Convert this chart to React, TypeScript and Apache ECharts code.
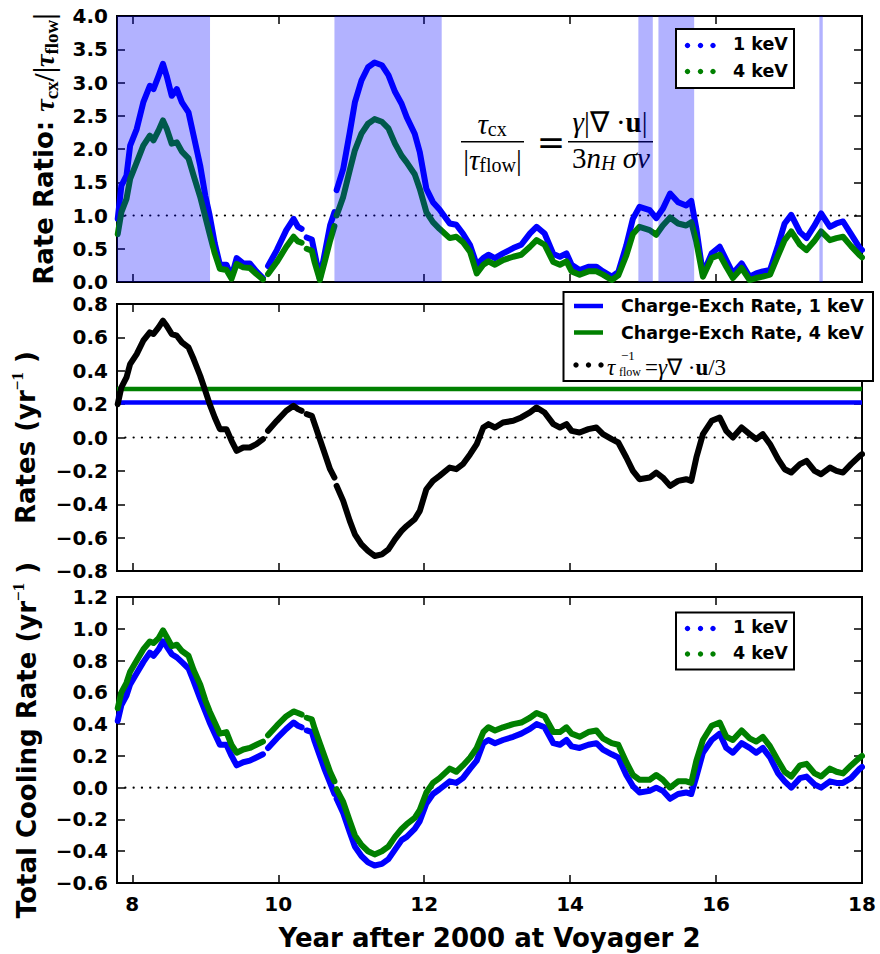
import React, { useEffect, useRef } from 'react';
import * as echarts from 'echarts';

// ---------------- DATA ----------------
const X_MIN = 7.79;
const X_MAX = 18;
const X_TICKS = [8, 10, 12, 14, 16, 18];

// sample years (null values = data gaps)
const YEARS = [
  7.80, 7.85, 7.92, 7.97, 8.06, 8.15, 8.24, 8.29, 8.36, 8.42, // 0-9
  8.47, 8.54, 8.61, 8.68, 8.77, 8.84, 8.93, 9.00, 9.06, 9.13, // 10-19
  9.20, 9.29, 9.36, 9.43, 9.52, 9.61, 9.70, 9.79, 9.83, 9.86, // 20-29
  9.98, 10.11, 10.21, 10.27, 10.32, 10.35, 10.39, 10.46, 10.50, 10.57, // 30-39
  10.64, 10.71, 10.77, 10.785, 10.80, 10.89, 10.98, 11.05, 11.14, 11.23, // 40-49
  11.32, 11.42, 11.51, 11.60, 11.69, 11.76, 11.87, 11.94, 12.03, 12.12, // 50-59
  12.21, 12.35, 12.44, 12.53, 12.63, 12.72, 12.81, 12.88, 12.97, 13.08, // 60-69
  13.22, 13.33, 13.45, 13.54, 13.65, 13.77, 13.86, 13.95, 14.02, 14.13, // 70-79
  14.25, 14.36, 14.45, 14.57, 14.66, 14.77, 14.86, 14.95, 15.09, 15.18, // 80-89
  15.27, 15.37, 15.48, 15.59, 15.66, 15.73, 15.82, 15.94, 16.05, 16.14, // 90-99
  16.23, 16.35, 16.46, 16.55, 16.64, 16.74, 16.85, 16.94, 17.03, 17.15, // 100-109
  17.24, 17.35, 17.44, 17.56, 17.65, 17.74, 17.85, 17.97, 18.00, // 110-118
];

// Top panel: rate ratio tau_cx / |tau_flow|
const RATIO_1KEV = [
  0.95, 1.45, 1.60, 2.05, 2.30, 2.70, 2.95, 2.90, 3.10, 3.28,
  3.10, 2.80, 2.90, 2.70, 2.55, 2.20, 1.75, 1.30, 1.00, 0.58,
  0.26, 0.26, 0.08, 0.36, 0.28, 0.28, 0.16, 0.06, null, 0.24,
  0.48, 0.78, 0.95, 0.83, 0.80, null, 0.67, 0.64, 0.43, 0.05,
  0.45, 0.85, 1.05, null, 1.38, 1.70, 2.25, 2.70, 3.03, 3.23,
  3.30, 3.26, 3.11, 2.86, 2.68, 2.48, 2.23, 1.95, 1.40, 1.20,
  1.09, 0.88, 0.86, 0.73, 0.55, 0.26, 0.36, 0.41, 0.36, 0.43,
  0.51, 0.56, 0.73, 0.83, 0.73, 0.42, 0.38, 0.43, 0.26, 0.18,
  0.23, 0.23, 0.16, 0.08, 0.15, 0.55, 0.95, 1.13, 1.08, 0.96,
  1.10, 1.33, 1.20, 1.15, 1.22, 0.80, 0.12, 0.43, 0.53, 0.33,
  0.13, 0.28, 0.08, 0.13, 0.16, 0.18, 0.55, 0.88, 1.01, 0.75,
  0.66, 0.85, 1.03, 0.83, 0.88, 0.91, 0.72, 0.51, 0.48,
];
const RATIO_4KEV = [
  0.72, 1.05, 1.25, 1.55, 1.80, 2.05, 2.20, 2.13, 2.28, 2.43,
  2.31, 2.08, 2.10, 1.96, 1.86, 1.60, 1.28, 0.98, 0.72, 0.43,
  0.20, 0.18, 0.05, 0.27, 0.22, 0.21, 0.12, 0.04, null, 0.12,
  0.30, 0.53, 0.68, 0.61, 0.59, null, 0.50, 0.47, 0.29, 0.03,
  0.32, 0.62, 0.84, null, 1.00, 1.28, 1.68, 1.98, 2.23, 2.38,
  2.45, 2.41, 2.31, 2.08, 1.90, 1.80, 1.62, 1.40, 1.05, 0.90,
  0.80, 0.66, 0.68, 0.60, 0.45, 0.13, 0.26, 0.31, 0.26, 0.33,
  0.38, 0.41, 0.53, 0.63, 0.56, 0.30, 0.26, 0.31, 0.16, 0.11,
  0.16, 0.16, 0.11, 0.03, 0.10, 0.40, 0.72, 0.83, 0.78, 0.71,
  0.85, 0.97, 0.88, 0.85, 0.90, 0.60, 0.08, 0.36, 0.41, 0.23,
  0.06, 0.21, 0.03, 0.06, 0.08, 0.11, 0.40, 0.63, 0.76, 0.56,
  0.48, 0.62, 0.76, 0.63, 0.66, 0.68, 0.54, 0.40, 0.37,
];

// Middle panel: tau_flow^-1 (yr^-1) and charge-exchange rates
const INV_TAU_FLOW = [
  0.20, 0.30, 0.36, 0.44, 0.50, 0.58, 0.63, 0.62, 0.66, 0.70,
  0.67, 0.62, 0.61, 0.57, 0.54, 0.47, 0.37, 0.28, 0.20, 0.12,
  0.05, 0.05, -0.02, -0.08, -0.06, -0.06, -0.04, -0.01, null, 0.04,
  0.10, 0.16, 0.19, 0.17, 0.16, null, 0.14, 0.13, 0.08, -0.01,
  -0.10, -0.19, -0.24, null, -0.29, -0.38, -0.50, -0.58, -0.64, -0.68,
  -0.71, -0.70, -0.67, -0.61, -0.56, -0.53, -0.49, -0.44, -0.31, -0.26,
  -0.23, -0.18, -0.19, -0.16, -0.10, -0.04, 0.06, 0.08, 0.06, 0.09,
  0.10, 0.12, 0.15, 0.18, 0.15, 0.08, 0.06, 0.08, 0.04, 0.03,
  0.05, 0.06, 0.02, -0.01, -0.03, -0.12, -0.20, -0.25, -0.24, -0.21,
  -0.24, -0.29, -0.26, -0.25, -0.26, -0.12, 0.02, 0.10, 0.12, 0.04,
  0.00, 0.06, 0.02, -0.01, 0.02, -0.04, -0.13, -0.19, -0.21, -0.16,
  -0.14, -0.20, -0.22, -0.18, -0.20, -0.21, -0.16, -0.11, -0.10,
];
const CX_RATE_1KEV = 0.21;
const CX_RATE_4KEV = 0.29;

// Bottom panel: total cooling rate (yr^-1)
const COOL_1KEV = [
  0.42, 0.52, 0.58, 0.65, 0.72, 0.79, 0.85, 0.83, 0.87, 0.92,
  0.89, 0.84, 0.82, 0.79, 0.75, 0.67, 0.56, 0.48, 0.41, 0.34,
  0.27, 0.27, 0.20, 0.14, 0.16, 0.17, 0.19, 0.21, null, 0.25,
  0.31, 0.37, 0.41, 0.39, 0.38, null, 0.36, 0.35, 0.29, 0.20,
  0.11, 0.03, -0.04, null, -0.07, -0.16, -0.28, -0.37, -0.43, -0.47,
  -0.49, -0.48, -0.45, -0.39, -0.33, -0.31, -0.26, -0.21, -0.10, -0.04,
  -0.01, 0.04, 0.03, 0.06, 0.12, 0.17, 0.28, 0.30, 0.28, 0.30,
  0.32, 0.34, 0.37, 0.40, 0.38, 0.28, 0.27, 0.30, 0.26, 0.25,
  0.27, 0.28, 0.24, 0.21, 0.19, 0.08, 0.01, -0.03, -0.02, 0.00,
  -0.02, -0.07, -0.04, -0.03, -0.04, 0.07, 0.22, 0.30, 0.34, 0.25,
  0.22, 0.28, 0.25, 0.22, 0.25, 0.19, 0.09, 0.04, 0.00, 0.06,
  0.07, 0.02, 0.00, 0.04, 0.03, 0.03, 0.06, 0.12, 0.13,
];
const COOL_4KEV = [
  0.50, 0.60, 0.66, 0.73, 0.80, 0.87, 0.92, 0.91, 0.94, 0.99,
  0.95, 0.89, 0.90, 0.86, 0.83, 0.74, 0.65, 0.55, 0.48, 0.41,
  0.34, 0.35, 0.27, 0.22, 0.24, 0.25, 0.27, 0.29, null, 0.33,
  0.39, 0.45, 0.48, 0.47, 0.46, null, 0.44, 0.43, 0.37, 0.28,
  0.19, 0.10, 0.04, null, -0.01, -0.09, -0.21, -0.30, -0.36, -0.40,
  -0.42, -0.40, -0.37, -0.31, -0.26, -0.23, -0.19, -0.14, -0.03, 0.03,
  0.06, 0.12, 0.10, 0.14, 0.19, 0.25, 0.35, 0.38, 0.36, 0.38,
  0.40, 0.41, 0.44, 0.47, 0.45, 0.35, 0.35, 0.38, 0.34, 0.32,
  0.35, 0.36, 0.31, 0.28, 0.27, 0.16, 0.08, 0.05, 0.05, 0.08,
  0.05, 0.00, 0.04, 0.04, 0.03, 0.17, 0.30, 0.39, 0.41, 0.32,
  0.30, 0.36, 0.31, 0.29, 0.32, 0.26, 0.17, 0.10, 0.07, 0.14,
  0.15, 0.09, 0.07, 0.12, 0.10, 0.09, 0.14, 0.19, 0.20,
];

// shaded intervals (years) where ratio exceeds 1
const SHADE_SPANS: [number, number][] = [
  [7.79, 9.065], [10.77, 12.24], [14.935, 15.133], [15.21, 15.70], [17.416, 17.462],
];

// reference (dotted) levels
const RATIO_REF = 1.0;
const ZERO_REF = 0.0;

// ---------------- STYLE ----------------
const SANS = 'DejaVu Sans';
const SERIF = 'Liberation Serif';
const BLUE = '#0000ff';
const GREEN = '#008000';
const BLACK = '#000000';
const LW = 6;

const GRIDS = [
  { left: 117, top: 16, width: 745, height: 266 },
  { left: 117, top: 304, width: 745, height: 267 },
  { left: 117, top: 597, width: 745, height: 286 },
];
const Y_SCALES = [
  { min: 0, max: 4, interval: 0.5 },
  { min: -0.8, max: 0.8, interval: 0.2 },
  { min: -0.6, max: 1.2, interval: 0.2 },
];

const fmt = (v: number) => {
  const r = Math.round(v * 10) / 10;
  if (Math.abs(r) < 1e-9) return '0.0';
  return r < 0 ? '\u2212' + Math.abs(r).toFixed(1) : r.toFixed(1);
};

const RICH = {
  b: { fontFamily: SANS, fontWeight: 'bold', fontSize: 26, color: BLACK, lineHeight: 34 },
  i: { fontFamily: SERIF, fontStyle: 'italic', fontSize: 28, color: BLACK, lineHeight: 34 },
  m: { fontFamily: SERIF, fontSize: 29, color: BLACK, lineHeight: 34 },
  s: { fontFamily: SERIF, fontSize: 19, color: BLACK, lineHeight: 14, verticalAlign: 'bottom' },
  sup: { fontFamily: SERIF, fontSize: 17, color: BLACK, lineHeight: 12, verticalAlign: 'top' },
};

const Y_NAMES = [
  '{b|Rate Ratio: }{i|τ}{s|cx}{m|/|}{i|τ}{s|flow}{m||}',
  '{b|Rates (yr}{sup|\u22121}{b| )}',
  '{b|Total Cooling Rate (yr}{sup|\u22121}{b| )}',
];
const Y_NAME_GAPS = [56, 74, 73];

const tickStyle = { show: true, inside: true, length: 8, lineStyle: { color: BLACK, width: 1.5 } };

function buildOption() {
  const pairs = (vals: (number | null)[]) => YEARS.map((x, i) => [x, vals[i] == null ? '-' : vals[i]]);
  const flat = (v: number) => [[X_MIN, v], [X_MAX, v]];

  const xAxis: any[] = [];
  const yAxis: any[] = [];
  for (let g = 0; g < 3; g++) {
    xAxis.push({
      type: 'value', gridIndex: g, position: 'bottom', min: X_MIN, max: X_MAX,
      axisLine: { show: false, onZero: false }, splitLine: { show: false },
      axisTick: { ...tickStyle, customValues: X_TICKS },
      axisLabel: g === 2
        ? { show: true, customValues: X_TICKS, margin: 11, color: BLACK, fontFamily: SANS, fontWeight: 'bold', fontSize: 20 }
        : { show: false },
      name: g === 2 ? 'Year after 2000 at Voyager 2' : '',
      nameLocation: 'middle', nameGap: 42,
      nameTextStyle: { fontFamily: SANS, fontWeight: 'bold', fontSize: 26, color: BLACK },
    });
  }
  for (let g = 0; g < 3; g++) {
    xAxis.push({
      type: 'value', gridIndex: g, position: 'top', min: X_MIN, max: X_MAX,
      axisLine: { show: false, onZero: false }, splitLine: { show: false },
      axisTick: { ...tickStyle, customValues: X_TICKS }, axisLabel: { show: false },
    });
  }
  for (let g = 0; g < 3; g++) {
    yAxis.push({
      type: 'value', gridIndex: g, position: 'left', ...Y_SCALES[g],
      axisLine: { show: false, onZero: false }, splitLine: { show: false }, axisTick: tickStyle,
      axisLabel: { show: true, margin: 9, formatter: fmt, color: BLACK, fontFamily: SANS, fontWeight: 'bold', fontSize: 20 },
      name: Y_NAMES[g], nameLocation: 'middle', nameRotate: 90, nameGap: Y_NAME_GAPS[g],
      nameTextStyle: { rich: RICH, fontFamily: SANS, fontWeight: 'bold', fontSize: 26, color: BLACK },
    });
  }
  for (let g = 0; g < 3; g++) {
    yAxis.push({
      type: 'value', gridIndex: g, position: 'right', ...Y_SCALES[g],
      axisLine: { show: false, onZero: false }, splitLine: { show: false }, axisTick: tickStyle, axisLabel: { show: false },
    });
  }

  const dotted = (g: number, v: number) => ({
    type: 'line', xAxisIndex: g, yAxisIndex: g, data: flat(v), symbol: 'none', silent: true, z: 1,
    lineStyle: { color: BLACK, width: 2.2, type: [0.1, 8.2], cap: 'round' },
  });
  const curve = (g: number, name: string, vals: (number | null)[], color: string, width: number, z: number) => ({
    type: 'line', name, xAxisIndex: g, yAxisIndex: g, data: pairs(vals), symbol: 'none', showSymbol: false,
    connectNulls: false, z, silent: true,
    lineStyle: { color, width, cap: 'round', join: 'round' }, itemStyle: { color },
  });
  const hline = (g: number, name: string, v: number, color: string, z: number) => ({
    type: 'line', name, xAxisIndex: g, yAxisIndex: g, data: flat(v), symbol: 'none', silent: true, z,
    lineStyle: { color, width: 4.5 }, itemStyle: { color },
  });

  const series: any[] = [
    dotted(0, RATIO_REF),
    curve(0, '1 keV', RATIO_1KEV, BLUE, LW, 2),
    curve(0, '4 keV', RATIO_4KEV, GREEN, LW, 3),
    {
      type: 'line', name: 'shade', xAxisIndex: 0, yAxisIndex: 0, data: [], silent: true, z: 10,
      markArea: {
        silent: true, z: 10,
        itemStyle: { color: 'rgba(0,0,255,0.3)', borderWidth: 0 },
        data: SHADE_SPANS.map(([a, b]) => [{ xAxis: a }, { xAxis: b }]),
      },
    },
    dotted(1, ZERO_REF),
    hline(1, 'Charge-Exch Rate, 1 keV', CX_RATE_1KEV, BLUE, 2),
    hline(1, 'Charge-Exch Rate, 4 keV', CX_RATE_4KEV, GREEN, 2),
    curve(1, 'tau_flow^-1', INV_TAU_FLOW, BLACK, LW, 3),
    dotted(2, ZERO_REF),
    curve(2, '1 keV', COOL_1KEV, BLUE, LW, 2),
    curve(2, '4 keV', COOL_4KEV, GREEN, LW, 3),
  ];

  // ---------- graphic: equation + legends ----------
  const txt = (x: number, y: number, text: string, opts: any = {}, z = 3) => ({
    type: 'text', x, y, z,
    style: {
      text, fill: BLACK,
      align: opts.align || 'left', textAlign: opts.align || 'left',
      verticalAlign: 'middle', textVerticalAlign: 'middle',
      fontFamily: opts.fontFamily || SANS, fontWeight: opts.fontWeight || 'normal',
      fontStyle: opts.fontStyle || 'normal', fontSize: opts.fontSize || 17,
      rich: opts.rich,
    },
  });
  const hl = (x1: number, x2: number, y: number, color: string, w: number, z = 3) => ({
    type: 'line', z, shape: { x1, y1: y, x2, y2: y }, style: { stroke: color, lineWidth: w },
  });
  const dots = (xs: number[], y: number, color: string) =>
    xs.map((x) => ({ type: 'circle', z: 21, shape: { cx: x, cy: y, r: 2.7 }, style: { fill: color } }));

  const EQ_RICH = {
    i: { fontFamily: SERIF, fontStyle: 'italic', fontSize: 29, color: BLACK },
    m: { fontFamily: SERIF, fontSize: 29, color: BLACK },
    bb: { fontFamily: SERIF, fontWeight: 'bold', fontSize: 29, color: BLACK },
    s: { fontFamily: SERIF, fontSize: 20, color: BLACK, lineHeight: 12, verticalAlign: 'bottom' },
    si: { fontFamily: SERIF, fontStyle: 'italic', fontSize: 20, color: BLACK, lineHeight: 10, verticalAlign: 'bottom' },
  };
  const LEG_BOLD = { fontFamily: SANS, fontWeight: 'bold', fontSize: 17.5 };
  const LM_RICH = {
    i: { fontFamily: SERIF, fontStyle: 'italic', fontSize: 23, color: BLACK },
    m: { fontFamily: SERIF, fontSize: 23, color: BLACK },
    bb: { fontFamily: SERIF, fontWeight: 'bold', fontSize: 23, color: BLACK },
  };

  const graphic: any[] = [
    // equation
    txt(492, 124, '{i|τ}{s|cx}', { align: 'center', rich: EQ_RICH }),
    hl(461, 524, 141.7, BLACK, 1.5),
    txt(492.5, 160, '{m||}{i|τ}{s|flow}{m||}', { align: 'center', rich: EQ_RICH }),
    txt(551, 142, '=', { align: 'center', fontFamily: 'DejaVu Serif', fontSize: 34 }),
    txt(610, 122, '{i|γ}{m||∇ ·}{bb|u}{m||}', { align: 'center', rich: EQ_RICH }),
    hl(568, 653, 141.7, BLACK, 1.5),
    txt(611, 158, '{m|3}{i|n}{si|H}{m| }{i|σv}', { align: 'center', rich: EQ_RICH }),

    // top legend
    { type: 'rect', z: 20, shape: { x: 676, y: 29, width: 118, height: 59 }, style: { fill: '#fff', stroke: BLACK, lineWidth: 2 } },
    ...dots([687.5, 700.5, 713], 45.5, BLUE),
    ...dots([687.5, 700.5, 713], 71.5, GREEN),
    txt(733, 43.5, '1 keV', LEG_BOLD, 21),
    txt(733, 70.5, '4 keV', LEG_BOLD, 21),

    // middle legend
    { type: 'rect', z: 20, shape: { x: 563.5, y: 292, width: 309.5, height: 89 }, style: { fill: '#fff', stroke: BLACK, lineWidth: 2 } },
    hl(574, 603, 306, BLUE, 4.5, 21),
    txt(621, 306, 'Charge-Exch Rate, 1 keV', LEG_BOLD, 21),
    hl(574, 603, 332.5, GREEN, 4.5, 21),
    txt(621, 332.5, 'Charge-Exch Rate, 4 keV', LEG_BOLD, 21),
    ...dots([576, 588.5, 601], 365, BLACK),
    txt(607, 367, 'τ', { fontFamily: SERIF, fontStyle: 'italic', fontSize: 23 }, 21),
    txt(621, 355.5, '\u22121', { fontFamily: SERIF, fontSize: 13 }, 21),
    txt(619, 371.5, 'flow', { fontFamily: SERIF, fontSize: 12 }, 21),
    txt(645, 367, '{m|=}{i|γ}{m|∇ ·}{bb|u}{m|/3}', { rich: LM_RICH }, 21),

    // bottom legend
    { type: 'rect', z: 20, shape: { x: 676, y: 612.5, width: 118, height: 57 }, style: { fill: '#fff', stroke: BLACK, lineWidth: 2 } },
    ...dots([687.5, 700.5, 713], 628.5, BLUE),
    ...dots([687.5, 700.5, 713], 654, GREEN),
    txt(733, 627, '1 keV', LEG_BOLD, 21),
    txt(733, 653, '4 keV', LEG_BOLD, 21),
  ];

  return {
    animation: false,
    backgroundColor: '#ffffff',
    grid: GRIDS.map((g) => ({ ...g, show: true, borderColor: BLACK, borderWidth: 2, backgroundColor: 'transparent', containLabel: false })),
    xAxis,
    yAxis,
    series,
    graphic: { elements: graphic },
  };
}

export default function App() {
  const ref = useRef<HTMLDivElement>(null);
  useEffect(() => {
    if (!ref.current) return;
    const chart = echarts.init(ref.current, undefined, { renderer: 'svg' });
    chart.setOption(buildOption() as any);
    return () => chart.dispose();
  }, []);
  return (
    <div
      ref={ref}
      style={{ position: 'fixed', left: 0, top: 0, width: 880, height: 954, background: '#fff' }}
    />
  );
}
